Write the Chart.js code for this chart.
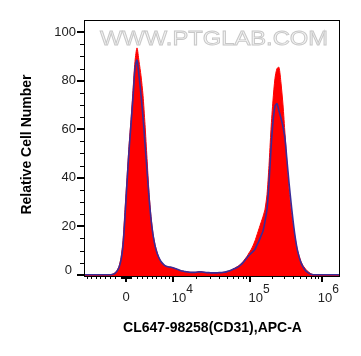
<!DOCTYPE html>
<html>
<head>
<meta charset="utf-8">
<script src="https://cdn.jsdelivr.net/npm/chart.js@4.4.1/dist/chart.umd.min.js"></script>
<style>
  html, body { margin: 0; padding: 0; background: #fff; }
  #wrap { width: 361px; height: 356px; }
</style>
</head>
<body>
<div id="wrap"><canvas id="grafico" width="361" height="356"></canvas></div>
<script>
/* ================= DADOS ================= */
// display channels 0..1024 on the biexponential axis, 128 bins of 8 channels
const binCount = 128;
const binChannels = Array.from({ length: binCount }, (_, i) => 4 + 8 * i);

// stained sample (red fill)
const redCounts = [
  0, 0, 0, 0, 0, 0, 0, 0, 0, 0, 0, 0, 0, 0,
  0.3, 0.8, 1.8, 3.5, 7, 14, 27, 40, 53, 64, 76, 88, 93.5, 88, 82, 74, 62, 48, 34, 24,
  17, 12.5, 9.5, 7, 5.5, 4.5, 3.8, 3.4, 3.2, 3.1, 2.9, 2.6, 2.3, 2.0, 1.7,
  1.5, 1.3, 1.2, 1.1, 1.0, 1.0, 1.0, 1.1, 1.2, 1.2, 1.1, 1.0, 0.9, 0.9, 0.8, 0.8, 0.8, 0.8,
  0.9, 0.9, 1.0, 1.1, 1.3, 1.6, 1.9, 2.3,
  2.8, 3.3, 3.8, 4.5, 5.4, 6.5, 7.6, 9, 10.3, 12, 14, 16.5, 19, 21.5, 24, 27, 33, 45, 60,
  72, 81, 85, 85.5, 79, 70, 58, 46, 35, 27, 21, 15.5, 11, 8, 5.5, 3.8, 2.7, 1.7, 1.0, 0.4, 0.1,
  0, 0, 0, 0, 0, 0, 0, 0, 0, 0, 0, 0, 0
];

// overlay sample (blue line)
const blueCounts = [
  0, 0, 0, 0, 0, 0, 0, 0, 0, 0, 0, 0, 0, 0,
  0.2, 0.6, 1.5, 3, 6, 12, 24, 38, 51, 62, 73, 85, 88.5, 82, 74, 65, 54, 43, 32, 23,
  16.5, 12, 9, 7, 5.5, 4.5, 3.8, 3.4, 3.2, 3.1, 2.9, 2.6, 2.3, 2.0, 1.7,
  1.5, 1.3, 1.2, 1.1, 1.0, 1.0, 1.0, 1.1, 1.2, 1.2, 1.1, 1.0, 0.9, 0.9, 0.8, 0.8, 0.8, 0.8,
  0.9, 0.9, 1.0, 1.1, 1.3, 1.6, 1.9, 2.3,
  2.6, 3.0, 3.5, 4.2, 5, 6, 7, 8, 8.8, 9.6, 10.5, 12.3, 14, 16, 18, 22, 27, 38, 52,
  63, 69.5, 70.5, 67.5, 64.5, 61, 56, 47, 38, 30, 22.5, 16, 11, 7.5, 5, 3.3, 2, 1.2, 0.6, 0.2, 0,
  0, 0, 0, 0, 0, 0, 0, 0, 0, 0, 0, 0, 0
];

// eixo X
const xMajorValues = [0, 1e4, 1e5, 1e6];
const xMajorChannels = [168, 357, 664, 951];
const xMajorExponents = ["", "4", "5", "6"];

// eixo Y
const yMajorTicks = [0, 20, 40, 60, 80, 100];
const yMinorStep = 5;

const xTitle = "CL647-98258(CD31),APC-A";
const yTitle = "Relative Cell Number";
const watermark = "WWW.PTGLAB.COM";

/* ================= ESCALA BIEXP ================= */
function channelOf(v) {
  if (v >= xMajorValues[1]) {
    for (let k = 1; k < xMajorValues.length - 1; k++) {
      const v0 = xMajorValues[k], v1 = xMajorValues[k + 1];
      if (v <= v1 || k === xMajorValues.length - 2) {
        const c0 = xMajorChannels[k], c1 = xMajorChannels[k + 1];
        return c0 + (c1 - c0) * Math.log10(v / v0) / Math.log10(v1 / v0);
      }
    }
  }
  return xMajorChannels[0] +
    (xMajorChannels[1] - xMajorChannels[0]) * Math.asinh(v / 1e4) / Math.asinh(1);
}

function minorValues() {
  const out = [];
  for (let n = -9; n <= 9; n++) if (n !== 0) out.push(n * 1000);
  for (let n = -9; n <= 9; n++) if (n !== 0) out.push(n * 100);
  for (let m = 2; m <= 9; m++) { out.push(m * 1e4); out.push(m * 1e5); }
  return out;
}

/* ================= PLUGIN EIXOS ================= */
const FONT = "'Liberation Sans', Arial, sans-serif";

const eixosPlugin = {
  id: "eixos",
  beforeDatasetsDraw(chart) {
    const { ctx, chartArea } = chart;
    ctx.save();
    ctx.font = "21px " + FONT;
    ctx.textAlign = "center";
    ctx.textBaseline = "middle";
    const cx = (chartArea.left + chartArea.right) / 2 + 2;
    ctx.translate(cx, 39.5);
    ctx.scale(1.13, 1);
    ctx.fillStyle = "#f4f4f4";
    ctx.fillText(watermark, 0, 0);
    ctx.strokeStyle = "#c8c8c8";
    ctx.lineWidth = 0.9;
    ctx.strokeText(watermark, 0, 0);
    ctx.restore();
  },
  afterDraw(chart) {
    const { ctx, chartArea } = chart;
    const xs = chart.scales.x, ys = chart.scales.y;
    const L = chartArea.left, R = chartArea.right, T = chartArea.top, B = chartArea.bottom;
    ctx.save();

    // moldura
    ctx.strokeStyle = "#000";
    ctx.lineWidth = 1;
    ctx.strokeRect(L + 0.5, T + 0.5, R - L - 1, B - T);

    // ticks Y
    ctx.beginPath();
    for (let v = 0; v <= 100; v += yMinorStep) {
      const y = Math.round(ys.getPixelForValue(v)) + 0.5;
      const len = yMajorTicks.includes(v) ? 7 : 4;
      ctx.moveTo(L - len, y);
      ctx.lineTo(L, y);
    }
    ctx.stroke();
    ctx.lineWidth = 2;
    ctx.beginPath();
    yMajorTicks.forEach(v => {
      const y = Math.round(ys.getPixelForValue(v));
      ctx.moveTo(L - 7, y);
      ctx.lineTo(L, y);
    });
    ctx.stroke();

    ctx.fillStyle = "#222";
    ctx.font = "13px " + FONT;
    ctx.textAlign = "right";
    ctx.textBaseline = "middle";
    yMajorTicks.forEach(v => {
      const y = ys.getPixelForValue(v);
      if (v === 0) ctx.fillText("0", L - 12, y - 4);
      else ctx.fillText(String(v), L - 8, y);
    });

    // ticks X
    ctx.lineWidth = 1;
    ctx.beginPath();
    minorValues().forEach(v => {
      const ch = channelOf(v);
      if (ch < xs.min || ch > xs.max) return;
      const x = Math.round(xs.getPixelForValue(ch)) + 0.5;
      ctx.moveTo(x, B);
      ctx.lineTo(x, B + 3);
    });
    ctx.stroke();
    ctx.lineWidth = 2;
    ctx.beginPath();
    xMajorChannels.forEach(ch => {
      const x = Math.round(xs.getPixelForValue(ch));
      ctx.moveTo(x, B);
      ctx.lineTo(x, B + 6);
    });
    ctx.stroke();

    ctx.fillStyle = "#222";
    ctx.textBaseline = "middle";
    xMajorChannels.forEach((ch, i) => {
      const x = xs.getPixelForValue(ch);
      if (xMajorValues[i] === 0) {
        ctx.font = "13px " + FONT;
        ctx.textAlign = "center";
        ctx.fillText("0", x, 297.5);
        return;
      }
      ctx.font = "13px " + FONT;
      const wBase = ctx.measureText("10").width;
      ctx.font = "12px " + FONT;
      const wExp = ctx.measureText(xMajorExponents[i]).width;
      let left = x - 1.5;
      if (left + wBase + wExp > R - 1) left = R - 1 - wBase - wExp;
      ctx.textAlign = "left";
      ctx.font = "13px " + FONT;
      ctx.fillText("10", left, 298);
      ctx.font = "12px " + FONT;
      ctx.fillText(xMajorExponents[i], left + wBase, 290);
    });

    // titulos
    ctx.fillStyle = "#000";
    ctx.font = "bold 14px " + FONT;
    ctx.textAlign = "center";
    ctx.textBaseline = "middle";
    ctx.fillText(xTitle, 212.5, 328);
    ctx.translate(27, 144.5);
    ctx.rotate(-Math.PI / 2);
    ctx.fillText(yTitle, 0, 0);

    ctx.restore();
  }
};

/* ================= GRAFICO ================= */
const toPoints = arr => arr.map((v, i) => ({ x: binChannels[i], y: v }));

new Chart(document.getElementById("grafico"), {
  type: "line",
  data: {
    datasets: [
      {
        label: "CD31",
        data: toPoints(redCounts),
        borderColor: "#ff0000",
        borderWidth: 1,
        backgroundColor: "#ff0000",
        fill: "start",
        pointRadius: 0,
        tension: 0.25,
        order: 2
      },
      {
        label: "Overlay",
        data: toPoints(blueCounts),
        borderColor: "#3a2c98",
        borderWidth: 1.6,
        fill: false,
        pointRadius: 0,
        tension: 0.25,
        order: 1
      }
    ]
  },
  options: {
    responsive: false,
    animation: false,
    devicePixelRatio: 1,
    layout: { padding: { left: 84, right: 21, top: 20, bottom: 80 } },
    scales: {
      x: { type: "linear", min: 0, max: 1024, display: false },
      y: { type: "linear", min: -0.5, max: 105, display: false }
    },
    plugins: {
      legend: { display: false },
      tooltip: { enabled: false }
    }
  },
  plugins: [eixosPlugin]
});
</script>
</body>
</html>
